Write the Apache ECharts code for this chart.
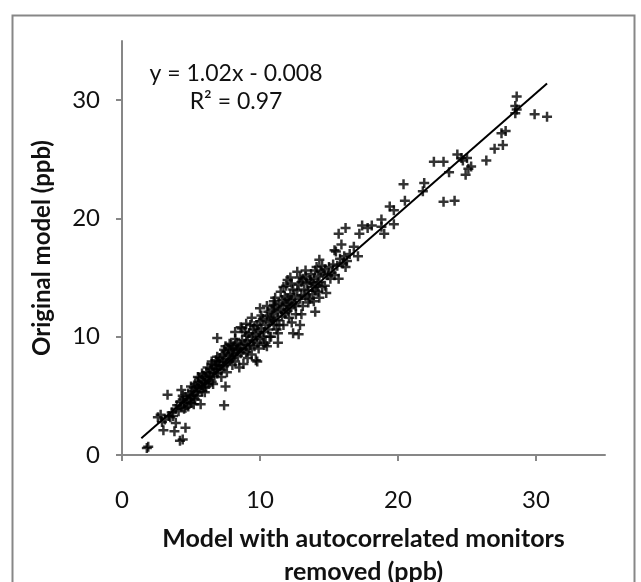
<!DOCTYPE html>
<html>
<head>
<meta charset="utf-8">
<script src="https://cdn.jsdelivr.net/npm/echarts@6/dist/echarts.min.js"></script>
<style>
  html, body { margin: 0; padding: 0; background: #fff; }
  #chart { width: 641px; height: 582px; }
</style>
</head>
<body>
<div id="chart"></div>
<script>
// model with autocorrelated monitors removed (x) vs original model (y), ppb
const bandPoints = [
  [3.5,3.2],[3.6,3.6],[3.7,3.3],[3.9,3.9],[4.0,4.2],[4.1,3.7],[4.2,4.5],[4.3,4.1],[4.4,4.7],[4.5,4.4],[4.5,3.9],[4.6,4.9],[4.7,4.5],[4.8,4.1],[4.8,5.2],[4.9,4.7],
  [5.0,5.0],[5.0,4.4],[5.1,5.4],[5.1,4.8],[5.2,5.7],[5.2,5.1],[5.3,4.7],[5.3,6.0],[5.4,5.3],[5.4,5.8],[5.5,6.2],[5.5,5.0],[5.6,5.6],[5.6,6.5],[5.7,5.9],[5.7,4.3],[5.8,6.3],[5.8,5.4],[5.9,6.7],[5.9,5.7],[6.0,6.1],
  [6.0,6.6],[6.1,5.8],[6.1,7.0],[6.2,6.4],[6.3,6.9],[6.3,6.0],[6.4,7.3],[6.4,6.6],[6.5,7.7],[6.5,6.2],[6.6,7.0],[6.7,6.7],[6.7,7.5],[6.8,7.2],[6.8,8.0],[6.9,6.9],[6.9,7.6],[7.0,7.9],[7.0,7.3],
  [7.1,7.6],[7.1,8.2],[7.2,7.2],[7.3,7.9],[7.3,8.5],[7.4,7.5],[7.5,8.1],[7.5,8.7],[7.6,7.8],[7.7,8.4],[7.7,9.0],[7.8,8.0],[7.9,8.6],[7.9,9.3],[8.0,8.2],[8.0,8.9],
  [8.1,9.2],[8.1,8.5],[8.2,7.9],[8.3,8.8],[8.3,9.5],[8.4,8.4],[8.5,9.0],[8.5,7.4],[8.6,9.3],[8.6,8.6],[8.7,9.7],[8.7,10.7],[8.8,8.9],[8.8,7.7],[8.9,9.4],[9.0,8.7],[9.0,10.1],
  [9.1,9.6],[9.2,9.0],[9.2,10.3],[9.3,9.3],[9.4,10.0],[9.4,8.5],[9.5,9.7],[9.5,10.6],[9.6,9.2],[9.7,10.2],[9.8,11.0],[9.8,9.5],[9.9,10.4],[10.0,9.8],[10.0,11.3],
  [10.1,10.7],[10.2,10.0],[10.2,11.5],[10.3,10.4],[10.4,11.0],[10.4,9.5],[10.5,11.7],[10.6,10.6],[10.6,12.1],[10.7,11.2],[10.8,10.0],[10.8,11.6],[10.9,12.3],[11.0,11.0],[11.0,11.9],
  [11.1,12.5],[11.2,11.4],[11.2,10.6],[11.3,12.1],[11.4,12.8],[11.4,11.0],[11.5,12.3],[11.6,11.7],[11.6,13.1],[11.7,12.6],[11.8,12.0],[11.8,13.4],[11.9,12.7],[12.0,12.2],[12.0,13.2],
  [12.1,12.9],[12.2,13.6],[12.2,12.4],[12.3,13.1],[12.4,14.0],[12.5,12.8],[12.5,13.4],[12.6,12.6],[12.7,13.9],[12.8,14.4],[12.9,13.2],[13.0,14.6],[13.0,13.5],
  [13.1,14.9],[13.2,14.0],[13.3,13.4],[13.3,15.1],[13.4,14.5],[13.5,13.9],[13.6,14.8],[13.6,13.2],[13.7,15.3],[13.8,14.2],[13.8,13.6],[13.9,14.9],[14.0,13.9],[14.0,15.6],
  [14.1,14.4],[14.2,15.1],[14.2,13.8],[14.3,14.6],[14.4,15.5],[14.5,14.2],[14.6,15.3],[14.7,15.7],[14.9,15.2],[15.0,15.9],[15.2,15.4],[15.3,16.1],
  [15.8,16.6],[16.0,16.2],[16.1,16.8],[16.3,16.4],[16.5,17.0]
];
const bandEdgePoints = [
  [4.4,5.0],[4.6,4.0],[5.0,5.8],[5.2,4.3],[5.5,6.6],[5.8,6.9],[6.0,5.3],[6.2,7.4],[6.5,7.9],[6.6,6.0],[6.9,8.3],[7.2,6.6],[7.4,8.9],[7.6,7.0],
  [7.8,9.4],[8.0,7.6],[8.2,9.8],[8.4,9.0],[8.9,10.4],[9.1,8.2],[9.3,11.0],[9.6,10.9],[9.9,9.0],[10.1,11.8],[10.3,9.3],[10.5,12.6],[10.7,10.0],
  [10.9,11.4],[11.1,13.3],[11.3,10.3],[11.5,13.8],[11.7,11.0],[11.9,14.3],[12.1,11.6],[12.3,14.5],[12.6,11.9],[12.9,15.0],[13.1,12.6],[13.3,15.6],
  [13.5,12.9],[13.7,14.6],[13.9,13.0],[14.1,15.9],[14.3,13.3],[14.5,16.0],[14.7,14.3],[14.8,13.7],[15.1,14.9],[15.4,15.2],[15.6,16.0],[12.0,14.8],
  [11.0,12.7],[9.0,11.1],[8.2,10.4]
];
const sparsePoints = [
  [1.8,0.6],[1.9,0.7],[3.3,5.1],[2.6,3.2],[2.8,3.4],[2.9,2.8],[3.0,2.1],[3.1,3.0],[3.4,3.3],[3.8,2.0],[3.9,2.7],[4.6,2.3],[4.2,1.2],[4.4,1.3],[4.3,5.5],
  [7.4,4.2],[7.5,5.8],[6.9,9.9],[7.5,9.2],[9.8,7.9],[9.7,8.0],[10.0,12.4],[9.4,11.6],[8.6,10.8],[11.0,13.0],[11.7,14.2],[12.2,15.0],[12.7,15.5],
  [14.0,12.1],[12.3,11.2],[12.4,10.3],[12.8,10.2],[12.9,11.0],[13.0,11.9],[11.3,9.5],[10.5,9.2],[14.3,16.5],[15.7,14.9],[15.7,18.7],[16.2,19.2],
  [15.9,17.8],[15.4,17.3],[15.5,17.2],[16.2,15.9],[16.8,17.6],[17.1,16.8],[17.2,18.7],[17.4,19.4],[17.8,19.2],[18.1,19.4],[18.8,19.9],[18.8,19.3],
  [19.0,18.7],[19.4,21.0],[19.7,20.7],[19.7,19.5],[20.4,22.9],[20.5,21.5],[21.8,22.3],[21.9,23.0],[22.6,24.8],[23.3,24.8],[23.3,21.4],[24.1,21.5],
  [23.7,23.9],[24.3,25.4],[24.6,25.1],[24.7,24.9],[25.0,25.1],[24.9,23.7],[25.1,24.2],[25.3,24.4],[26.4,24.9],[27.0,25.9],[27.6,26.2],[27.5,27.2],
  [27.8,27.4],[28.6,30.3],[28.5,29.5],[28.6,29.2],[28.5,28.9],[29.9,28.8],[30.8,28.6]
];
const trendX = [1.4, 30.8];
const trendY = [1.42, 31.41];
const xTicks = [0, 10, 20, 30];
const yTicks = [0, 10, 20, 30];
const equationText = 'y = 1.02x - 0.008';
const r2Text = 'R\u00b2 = 0.97';

var myChart = echarts.init(document.getElementById('chart'));
const axisGray = '#878787';
const font = 'Lato, "Open Sans", sans-serif';
const plusPath = 'path://M3,0H5V3H8V5H5V8H3V5H0V3H3Z';

var option = {
  animation: false,
  backgroundColor: '#fff',
  grid: { left: 122, right: 36, top: 41, bottom: 127, outerBoundsMode: 'none', containLabel: false },
  xAxis: {
    type: 'value',
    min: 0,
    max: 35,
    interval: 10,
    name: 'Model with autocorrelated monitors\nremoved (ppb)',
    nameLocation: 'middle',
    nameGap: 67,
    nameTextStyle: { fontFamily: font, fontSize: 25, fontWeight: 'bold', color: '#111', lineHeight: 33 },
    axisLine: { lineStyle: { color: axisGray, width: 2 } },
    axisTick: { show: true, length: 6, customValues: xTicks, lineStyle: { color: axisGray, width: 2 } },
    axisLabel: { customValues: xTicks, margin: 33, fontFamily: font, fontSize: 24, color: '#111' },
    splitLine: { show: false }
  },
  yAxis: {
    type: 'value',
    min: 0,
    max: 35,
    interval: 10,
    name: 'Original model (ppb)',
    nameLocation: 'middle',
    nameGap: 68,
    nameTextStyle: { fontFamily: font, fontSize: 24, fontWeight: 'bold', color: '#111' },
    axisLine: { show: true, lineStyle: { color: axisGray, width: 2 } },
    axisTick: { show: true, length: 6, customValues: yTicks, lineStyle: { color: axisGray, width: 2 } },
    axisLabel: { customValues: yTicks, margin: 22, fontFamily: font, fontSize: 24, color: '#111' },
    splitLine: { show: false }
  },
  graphic: [
    {
      type: 'rect',
      left: 10, top: 13,
      shape: { width: 622, height: 600 },
      style: { fill: 'none', stroke: axisGray, lineWidth: 2 },
      silent: true
    },
    {
      type: 'text',
      x: 236, y: 74,
      style: { text: equationText, fontFamily: font, fontSize: 23, fill: '#111', align: 'center', verticalAlign: 'middle' }
    },
    {
      type: 'text',
      x: 236, y: 102,
      style: { text: r2Text, fontFamily: font, fontSize: 23, fill: '#111', align: 'center', verticalAlign: 'middle' }
    }
  ],
  series: [
    {
      type: 'scatter',
      data: bandPoints.concat(bandEdgePoints, sparsePoints),
      symbol: plusPath,
      symbolSize: 10,
      itemStyle: { color: '#000' },
      silent: true
    },
    {
      type: 'line',
      data: trendX.map((x, i) => [x, trendY[i]]),
      symbol: 'none',
      lineStyle: { color: '#000', width: 2 },
      silent: true,
      z: 3
    }
  ]
};

option && myChart.setOption(option);
</script>
</body>
</html>
